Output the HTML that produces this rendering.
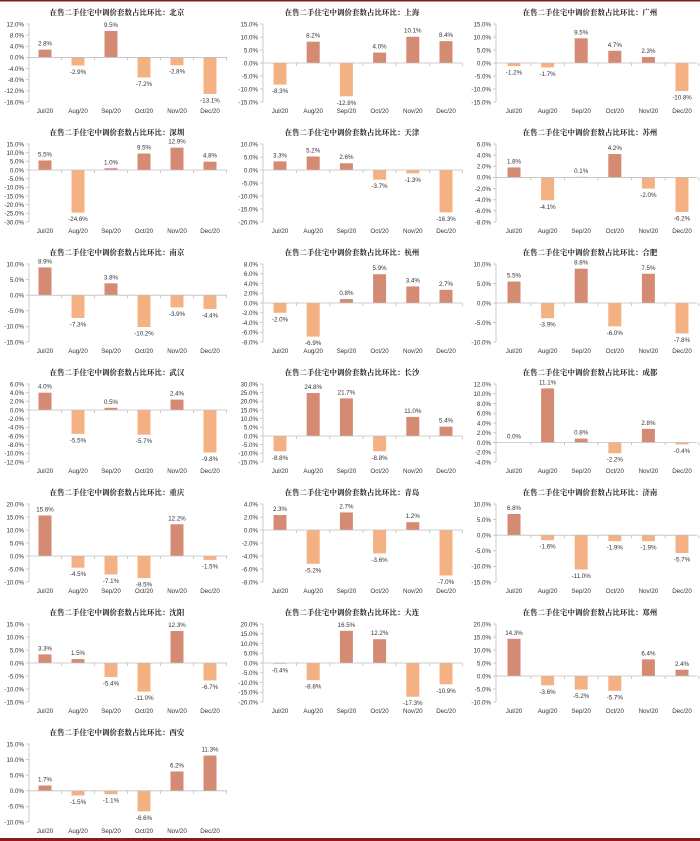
<!DOCTYPE html>
<html><head><meta charset="utf-8">
<style>
html,body{margin:0;padding:0;background:#fff;}
#wrap{position:relative;width:700px;height:841px;overflow:hidden;}
svg text{font-family:"Liberation Sans","Noto Sans CJK SC",sans-serif;}
</style></head>
<body>
<div id="wrap">
<svg id="svg" width="700" height="841" viewBox="0 0 700 841">
<rect x="0" y="0" width="700" height="1.5" fill="#8b1a1a"/>
<rect x="0" y="838" width="700" height="3" fill="#8b1a1a"/>
</svg>
</div>
<script>
const months = ["Jul/20","Aug/20","Sep/20","Oct/20","Nov/20","Dec/20"];
const cities = ["北京","上海","广州","深圳","天津","苏州","南京","杭州","合肥","武汉","长沙","成都","重庆","青岛","济南","沈阳","大连","郑州","西安"];
const values = [
 [2.8,-2.9,9.5,-7.2,-2.8,-13.1],
 [-8.3,8.2,-12.8,4.0,10.1,8.4],
 [-1.2,-1.7,9.5,4.7,2.3,-10.8],
 [5.5,-24.6,1.0,9.5,12.9,4.8],
 [3.3,5.2,2.6,-3.7,-1.3,-16.3],
 [1.8,-4.1,0.1,4.2,-2.0,-6.2],
 [8.9,-7.3,3.8,-10.2,-3.9,-4.4],
 [-2.0,-6.9,0.8,5.9,3.4,2.7],
 [5.5,-3.9,8.8,-6.0,7.5,-7.8],
 [4.0,-5.5,0.5,-5.7,2.4,-9.8],
 [-8.8,24.8,21.7,-8.8,11.0,5.4],
 [0.0,11.1,0.8,-2.2,2.8,-0.4],
 [15.6,-4.5,-7.1,-8.5,12.2,-1.5],
 [2.3,-5.2,2.7,-3.6,1.2,-7.0],
 [6.8,-1.6,-11.0,-1.9,-1.9,-5.7],
 [3.3,1.5,-5.4,-11.0,12.3,-6.7],
 [-0.4,-8.8,16.5,12.2,-17.3,-10.9],
 [14.3,-3.6,-5.2,-5.7,6.4,2.4],
 [1.7,-1.5,-1.1,-6.6,6.2,11.3]
];
const axisMax = [12,15,15,15,10,6,10,8,10,6,30,12,20,4,10,15,20,20,15];
const axisMin = [-16,-15,-15,-30,-20,-8,-15,-8,-10,-12,-15,-4,-10,-8,-15,-15,-20,-10,-10];
const axisStep = [4,5,5,5,5,2,5,2,5,2,5,2,5,2,5,5,5,5,5];

const NS="http://www.w3.org/2000/svg";
const svg=document.getElementById('svg');
const cols=[{ax:29,first:45,step:33,end:227,tc:117},{ax:263,first:280,step:33.2,end:462,tc:352},{ax:496,first:514,step:33.6,end:697,tc:590}];
function mk(tag,attrs,parent){const e=document.createElementNS(NS,tag);for(const k in attrs)e.setAttribute(k,attrs[k]);(parent||svg).appendChild(e);return e;}
function fmt(v){return v.toFixed(1)+"%";}

cities.forEach((city,i)=>{
  const c=cols[i%3], oy=Math.floor(i/3)*120;
  const g=mk('g',{});
  
  
  const top=24+oy, bot=102+oy;
  const mx=axisMax[i], mn=axisMin[i], st=axisStep[i];
  const y=v=>top+(mx-v)/(mx-mn)*(bot-top);
  const t=mk('text',{x:c.tc,y:15+oy,'text-anchor':'middle','font-size':'7.4','font-weight':'bold',fill:'#222',style:'font-family:"Noto Serif CJK SC",serif;letter-spacing:0.1px'},g);
  t.textContent="在售二手住宅中调价套数占比环比："+city;
  
  
  const ya=mk('line',{x1:c.ax,x2:c.ax,y1:top,y2:bot,stroke:'#bfbfbf','stroke-width':'0.8'},g);
  
  
  for(let v=mx;v>=mn-1e-9;v-=st){
    const yy=y(v);
    mk('line',{x1:c.ax-3,x2:c.ax,y1:yy,y2:yy,stroke:'#bfbfbf','stroke-width':'0.8'},g);
    const tl=mk('text',{x:c.ax-5,y:yy+2.3,'text-anchor':'end','font-size':'6.2',fill:'#333'},g);
    tl.textContent=fmt(v);
    
    
  }
  const y0=y(0);
  values[i].forEach((v,j)=>{
    const cx=c.first+j*c.step;
    const yv=y(v);
    const r=mk('rect',{x:cx-6.5,y:Math.min(yv,y0),width:13,height:Math.max(Math.abs(yv-y0),0.01),fill:v>=0?'#d58a73':'#f4b183'},g);
    
    
    const lbl=mk('text',{x:cx,y:v>=0?yv-4:yv+8.5,'text-anchor':'middle','font-size':'6.2',fill:'#333'},g);
    lbl.textContent=fmt(v);
    
    
    const xl=mk('text',{x:cx,y:113+oy,'text-anchor':'middle','font-size':'6.2',fill:'#333'},g);
    xl.textContent=months[j];
    
    
  });
  const xa=mk('line',{x1:c.ax,x2:c.end,y1:y0,y2:y0,stroke:'#bfbfbf','stroke-width':'0.8'},g);
  
  
  for(let j=1;j<=6;j++){
    const xx=c.first-c.step/2+j*c.step;
    mk('line',{x1:xx,x2:xx,y1:y0,y2:y0+3,stroke:'#bfbfbf','stroke-width':'0.8'},g);
  }
});
</script>
</body></html>
